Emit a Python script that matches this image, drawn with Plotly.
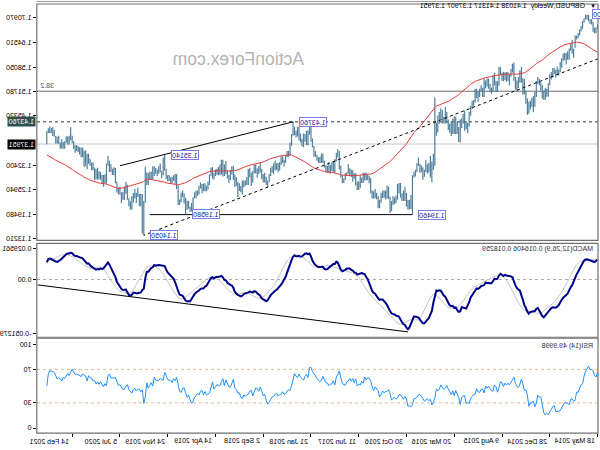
import pandas as pd
import plotly.graph_objects as go

# ---------------- data ----------------
FIRST_WEEK = "2014-05-18"   # first weekly bar on the chart

# weekly closes before the first visible bar (used only to warm up the indicators)
warmup_close = [1.5100, 1.5190, 1.5680, 1.5695, 1.5485, 1.5210, 1.4875, 1.5100, 1.5230, 1.5370,
                1.5375, 1.5505, 1.5650, 1.5580, 1.5495, 1.5650, 1.5865, 1.6020, 1.6120, 1.6190,
                1.5975, 1.6170, 1.6180, 1.5920, 1.5995, 1.6110, 1.6225, 1.6355, 1.6385, 1.6305,
                1.6370, 1.6475, 1.6475, 1.6430, 1.6420, 1.6490, 1.6440, 1.6315, 1.6665, 1.6660,
                1.6720, 1.6735, 1.6630, 1.6500, 1.6610, 1.6625, 1.6745, 1.6790, 1.6805, 1.6885,
                1.6865, 1.6820]

high = [
    # 2014
    1.6925, 1.6850, 1.6845, 1.6995, 1.7065, 1.7065, 1.7180, 1.7175, 1.7190, 1.7090, 1.7015, 1.6885,
    1.6800, 1.6700, 1.6635, 1.6640, 1.6290, 1.6525, 1.6415, 1.6300, 1.6225, 1.6180, 1.6185, 1.6165,
    1.6045, 1.5945, 1.5745, 1.5825, 1.5740, 1.5785, 1.5785, 1.5680, 1.5620,
    # 2015
    1.5390, 1.5245, 1.5270, 1.5200, 1.5350, 1.5420, 1.5500, 1.5550, 1.5445, 1.5165, 1.5050, 1.5005,
    1.4930, 1.4900, 1.4990, 1.5200, 1.5500, 1.5520, 1.5815, 1.5730, 1.5550, 1.5460, 1.5550, 1.5930,
    1.5900, 1.5760, 1.5615, 1.5675, 1.5680, 1.5675, 1.5690, 1.5665, 1.5805, 1.5820, 1.5440, 1.5450,
    1.5660, 1.5600, 1.5275, 1.5360, 1.5510, 1.5510, 1.5460, 1.5510, 1.5270, 1.5335, 1.5240, 1.5160,
    1.5240, 1.5245, 1.4945, 1.4930,
    # 2016
    1.4800, 1.4640, 1.4350, 1.4400, 1.4670, 1.4590, 1.4470, 1.4440, 1.4240, 1.4375, 1.4515, 1.4515,
    1.4460, 1.4385, 1.4325, 1.4440, 1.4640, 1.4770, 1.4510, 1.4685, 1.4730, 1.4635, 1.4545, 1.4355,
    1.5018, 1.3540, 1.3340, 1.3480, 1.3305, 1.3265, 1.3370, 1.3120, 1.3185, 1.3240, 1.3280, 1.3445,
    1.3290, 1.3120, 1.3060, 1.2975, 1.2460, 1.2335, 1.2330, 1.2510, 1.2675, 1.2575, 1.2500, 1.2775,
    1.2775, 1.2750, 1.2445, 1.2395,
    # 2017
    1.2435, 1.2300, 1.2415, 1.2675, 1.2710, 1.2580, 1.2575, 1.2570, 1.2520, 1.2335, 1.2425, 1.2520,
    1.2615, 1.2555, 1.2575, 1.2905, 1.2965, 1.2990, 1.3050, 1.3045, 1.3045, 1.2920, 1.2975, 1.2815,
    1.2815, 1.3030, 1.3030, 1.3110, 1.3125, 1.3160, 1.3265, 1.3055, 1.3030, 1.2890, 1.2980, 1.3225,
    1.3615, 1.3655, 1.3565, 1.3405, 1.3340, 1.3320, 1.3255, 1.3320, 1.3220, 1.3240, 1.3360, 1.3550,
    1.3550, 1.3460, 1.3450, 1.3515,
    # 2018
    1.3615, 1.3745, 1.3945, 1.4345, 1.4285, 1.4150, 1.4145, 1.4055, 1.4070, 1.3930, 1.4070, 1.4245,
    1.4245, 1.4145, 1.4250, 1.4376, 1.4060, 1.3835, 1.3615, 1.3615, 1.3500, 1.3385, 1.3475, 1.3475,
    1.3315, 1.3300, 1.3290, 1.3365, 1.3290, 1.3215, 1.3175, 1.3010, 1.2840, 1.2940, 1.3045, 1.3010,
    1.3145, 1.3300, 1.3215, 1.3155, 1.3260, 1.3260, 1.3090, 1.3045, 1.3175, 1.3140, 1.2930, 1.2840,
    1.2840, 1.2840, 1.2700, 1.2765,
    # 2019
    1.2800, 1.2930, 1.2995, 1.3215, 1.3215, 1.3110, 1.2985, 1.3110, 1.3350, 1.3260, 1.3380, 1.3380,
    1.3260, 1.3195, 1.3145, 1.3125, 1.3045, 1.3195, 1.3175, 1.3000, 1.2815, 1.2705, 1.2765, 1.2760,
    1.2750, 1.2785, 1.2705, 1.2580, 1.2580, 1.2525, 1.2400, 1.2250, 1.2150, 1.2310, 1.2310, 1.2385,
    1.2505, 1.2580, 1.2525, 1.2345, 1.2710, 1.3010, 1.3010, 1.2975, 1.2935, 1.2920, 1.2985, 1.2980,
    1.3150, 1.3514, 1.3445, 1.3080,
    # 2020
    1.3285, 1.3215, 1.3120, 1.3175, 1.3210, 1.3210, 1.3070, 1.3070, 1.3030, 1.3050, 1.3200, 1.2300,
    1.2485, 1.2485, 1.2485, 1.2650, 1.2520, 1.2615, 1.2515, 1.2425, 1.2295, 1.2375, 1.2730, 1.2810,
    1.2685, 1.2545, 1.2535, 1.2670, 1.2650, 1.2805, 1.3170, 1.3185, 1.3145, 1.3265, 1.3355, 1.3485,
    1.3285, 1.3005, 1.2985, 1.2985, 1.3060, 1.3085, 1.3175, 1.3140, 1.3180, 1.3310, 1.3310, 1.3400,
    1.3540, 1.3540, 1.3625, 1.3625,
    # 2021
    1.3705, 1.3705, 1.3710, 1.3745, 1.3760, 1.3760, 1.3865, 1.4015, 1.4240, 1.4015, 1.3990, 1.4000,
    1.3870, 1.3850, 1.3920, 1.3835, 1.4010, 1.3985, 1.4005, 1.4165, 1.4235, 1.4220, 1.4250, 1.4205,
    1.41317,
]

low = [
    # 2014
    1.6795, 1.6695, 1.6695, 1.6735, 1.6925, 1.6945, 1.7010, 1.7060, 1.7055, 1.6975, 1.6815, 1.6740,
    1.6640, 1.6565, 1.6535, 1.6315, 1.6052, 1.6160, 1.6240, 1.6000, 1.6000, 1.5875, 1.5995, 1.5960,
    1.5790, 1.5675, 1.5590, 1.5625, 1.5540, 1.5620, 1.5540, 1.5485, 1.5335,
    # 2015
    1.5035, 1.5035, 1.4950, 1.4950, 1.4990, 1.5200, 1.5335, 1.5370, 1.5030, 1.4770, 1.4635, 1.4765,
    1.4700, 1.4585, 1.4565, 1.4850, 1.5090, 1.5085, 1.5400, 1.5400, 1.5260, 1.5170, 1.5220, 1.5450,
    1.5670, 1.5560, 1.5330, 1.5450, 1.5420, 1.5470, 1.5440, 1.5455, 1.5605, 1.5330, 1.5165, 1.5160,
    1.5330, 1.5160, 1.5110, 1.5160, 1.5240, 1.5300, 1.5250, 1.5025, 1.5025, 1.5170, 1.5030, 1.4895,
    1.5000, 1.4880, 1.4800, 1.4710,
    # 2016
    1.4535, 1.4255, 1.4080, 1.4185, 1.4140, 1.4330, 1.4215, 1.3835, 1.3850, 1.4055, 1.4055, 1.4055,
    1.4060, 1.4005, 1.4090, 1.4160, 1.4340, 1.4330, 1.4330, 1.4330, 1.4450, 1.4330, 1.4095, 1.4010,
    1.3225, 1.3120, 1.2795, 1.2920, 1.3055, 1.3015, 1.3060, 1.2935, 1.2860, 1.3055, 1.3045, 1.3220,
    1.3055, 1.2945, 1.2915, 1.1946, 1.2090, 1.2085, 1.2080, 1.2150, 1.2300, 1.2305, 1.2300, 1.2385,
    1.2500, 1.2335, 1.2250, 1.2225,
    # 2017
    1.2200, 1.2035, 1.1986, 1.2355, 1.2375, 1.2345, 1.2385, 1.2380, 1.2255, 1.2110, 1.2110, 1.2350,
    1.2375, 1.2370, 1.2365, 1.2505, 1.2770, 1.2845, 1.2845, 1.2840, 1.2775, 1.2775, 1.2635, 1.2590,
    1.2590, 1.2710, 1.2880, 1.2810, 1.2930, 1.2950, 1.3025, 1.2955, 1.2850, 1.2775, 1.2770, 1.2920,
    1.3125, 1.3450, 1.3340, 1.3030, 1.3060, 1.3090, 1.3025, 1.3035, 1.3040, 1.3060, 1.3180, 1.3300,
    1.3300, 1.3300, 1.3305, 1.3360,
    # 2018
    1.3460, 1.3460, 1.3705, 1.3855, 1.4040, 1.3765, 1.3765, 1.3855, 1.3710, 1.3735, 1.3835, 1.3890,
    1.3990, 1.3965, 1.4025, 1.4010, 1.3750, 1.3485, 1.3460, 1.3450, 1.3305, 1.3205, 1.3300, 1.3245,
    1.3100, 1.3050, 1.3115, 1.3105, 1.3010, 1.3045, 1.2960, 1.2810, 1.2660, 1.2725, 1.2785, 1.2785,
    1.2880, 1.3050, 1.3010, 1.2920, 1.3025, 1.3030, 1.2790, 1.2695, 1.2925, 1.2725, 1.2720, 1.2700,
    1.2660, 1.2475, 1.2530, 1.2565,
    # 2019
    1.2405, 1.2705, 1.2670, 1.2855, 1.3000, 1.2855, 1.2775, 1.2890, 1.3005, 1.2960, 1.2945, 1.3005,
    1.2975, 1.2980, 1.2990, 1.2955, 1.2865, 1.2890, 1.2965, 1.2720, 1.2605, 1.2560, 1.2560, 1.2560,
    1.2505, 1.2630, 1.2475, 1.2440, 1.2380, 1.2365, 1.2080, 1.2025, 1.2015, 1.2100, 1.2070, 1.1959,
    1.2235, 1.2410, 1.2270, 1.2205, 1.2195, 1.2620, 1.2755, 1.2825, 1.2765, 1.2770, 1.2825, 1.2820,
    1.2880, 1.3100, 1.2980, 1.2905,
    # 2020
    1.3055, 1.3015, 1.2955, 1.3010, 1.2955, 1.2870, 1.2870, 1.2850, 1.2725, 1.2725, 1.2260, 1.1405,
    1.1450, 1.2165, 1.2165, 1.2405, 1.2245, 1.2370, 1.2265, 1.2075, 1.2075, 1.2165, 1.2335, 1.2495,
    1.2330, 1.2335, 1.2250, 1.2465, 1.2480, 1.2525, 1.2765, 1.2980, 1.2985, 1.3060, 1.3060, 1.3225,
    1.2760, 1.2765, 1.2675, 1.2745, 1.2860, 1.2865, 1.2860, 1.2880, 1.2855, 1.3105, 1.3105, 1.3225,
    1.3280, 1.3135, 1.3225, 1.3190,
    # 2021
    1.3450, 1.3450, 1.3520, 1.3580, 1.3615, 1.3565, 1.3665, 1.3815, 1.3890, 1.3780, 1.3780, 1.3830,
    1.3670, 1.3670, 1.3670, 1.3670, 1.3800, 1.3810, 1.3800, 1.3990, 1.4005, 1.4080, 1.4085, 1.4075,
    1.37907,
]

close = [
    # 2014
    1.6835, 1.6745, 1.6795, 1.6975, 1.7010, 1.7015, 1.7155, 1.7105, 1.7075, 1.6985, 1.6815, 1.6795,
    1.6695, 1.6590, 1.6595, 1.6325, 1.6260, 1.6315, 1.6295, 1.6055, 1.6085, 1.6095, 1.6095, 1.5995,
    1.5865, 1.5680, 1.5645, 1.5640, 1.5620, 1.5715, 1.5670, 1.5525, 1.5335,
    # 2015
    1.5145, 1.5165, 1.5015, 1.5055, 1.5240, 1.5395, 1.5390, 1.5435, 1.5055, 1.4815, 1.4965, 1.4890,
    1.4855, 1.4635, 1.4975, 1.5185, 1.5150, 1.5445, 1.5700, 1.5470, 1.5295, 1.5340, 1.5510, 1.5880,
    1.5745, 1.5580, 1.5510, 1.5600, 1.5515, 1.5610, 1.5460, 1.5640, 1.5700, 1.5410, 1.5175, 1.5435,
    1.5535, 1.5200, 1.5185, 1.5310, 1.5425, 1.5320, 1.5425, 1.5040, 1.5230, 1.5215, 1.5040, 1.5055,
    1.5195, 1.4885, 1.4865, 1.4740,
    # 2016
    1.4595, 1.4265, 1.4230, 1.4240, 1.4505, 1.4500, 1.4400, 1.3870, 1.4150, 1.4365, 1.4480, 1.4130,
    1.4375, 1.4105, 1.4230, 1.4405, 1.4615, 1.4440, 1.4375, 1.4495, 1.4620, 1.4375, 1.4255, 1.4350,
    1.3680, 1.3290, 1.2945, 1.3245, 1.3095, 1.3215, 1.3110, 1.2935, 1.3080, 1.3190, 1.3270, 1.3260,
    1.3055, 1.2995, 1.2970, 1.2425, 1.2190, 1.2230, 1.2195, 1.2485, 1.2595, 1.2385, 1.2475, 1.2575,
    1.2575, 1.2355, 1.2280, 1.2340,
    # 2017
    1.2275, 1.2180, 1.2405, 1.2570, 1.2475, 1.2480, 1.2410, 1.2475, 1.2290, 1.2190, 1.2400, 1.2475,
    1.2550, 1.2395, 1.2535, 1.2815, 1.2945, 1.2955, 1.2885, 1.3030, 1.2805, 1.2885, 1.2745, 1.2780,
    1.2715, 1.3025, 1.2885, 1.3100, 1.2995, 1.3135, 1.3035, 1.3010, 1.2875, 1.2890, 1.2965, 1.3200,
    1.3615, 1.3485, 1.3395, 1.3065, 1.3285, 1.3150, 1.3135, 1.3065, 1.3190, 1.3205, 1.3330, 1.3525,
    1.3375, 1.3325, 1.3385, 1.3505,
    # 2018
    1.3570, 1.3720, 1.3860, 1.4150, 1.4140, 1.3815, 1.4015, 1.3935, 1.3795, 1.3880, 1.3950, 1.4140,
    1.4015, 1.4085, 1.4240, 1.4015, 1.3770, 1.3515, 1.3550, 1.3490, 1.3335, 1.3320, 1.3410, 1.3275,
    1.3265, 1.3190, 1.3285, 1.3235, 1.3125, 1.3110, 1.2995, 1.2825, 1.2740, 1.2835, 1.3000, 1.2925,
    1.3075, 1.3200, 1.3035, 1.3130, 1.3155, 1.3030, 1.2815, 1.3000, 1.2965, 1.2825, 1.2800, 1.2730,
    1.2775, 1.2590, 1.2635, 1.2755,
    # 2019
    1.2745, 1.2840, 1.2885, 1.3190, 1.3075, 1.2935, 1.2945, 1.3045, 1.3195, 1.3010, 1.3300, 1.3205,
    1.3035, 1.3065, 1.3085, 1.3000, 1.2920, 1.3185, 1.2995, 1.2720, 1.2665, 1.2625, 1.2740, 1.2585,
    1.2735, 1.2700, 1.2520, 1.2570, 1.2465, 1.2370, 1.2160, 1.2035, 1.2145, 1.2280, 1.2165, 1.2290,
    1.2500, 1.2475, 1.2290, 1.2330, 1.2665, 1.2965, 1.2835, 1.2935, 1.2780, 1.2895, 1.2895, 1.2935,
    1.3145, 1.3325, 1.3035, 1.3075,
    # 2020
    1.3140, 1.3065, 1.3070, 1.3075, 1.3205, 1.2895, 1.3045, 1.2960, 1.2820, 1.3050, 1.2280, 1.1635,
    1.2465, 1.2270, 1.2450, 1.2480, 1.2335, 1.2490, 1.2405, 1.2130, 1.2210, 1.2345, 1.2665, 1.2560,
    1.2345, 1.2335, 1.2480, 1.2620, 1.2565, 1.2790, 1.3085, 1.3055, 1.3090, 1.3085, 1.3345, 1.3275,
    1.2795, 1.2915, 1.2750, 1.2940, 1.3040, 1.2915, 1.3045, 1.2950, 1.3150, 1.3125, 1.3285, 1.3320,
    1.3435, 1.3235, 1.3520, 1.3555,
    # 2021
    1.3670, 1.3565, 1.3640, 1.3685, 1.3705, 1.3695, 1.3835, 1.4010, 1.3925, 1.3830, 1.3935, 1.3865,
    1.3790, 1.3830, 1.3725, 1.3825, 1.3865, 1.3825, 1.3995, 1.4110, 1.4150, 1.4150, 1.4180, 1.4110,
    1.37951,
]

MA_PERIOD = 55
MACD_FAST, MACD_SLOW, MACD_SIGNAL = 12, 26, 9
RSI_PERIOD = 14

date_ticks = ["2014-05-18", "2014-12-28", "2015-08-09", "2016-03-20", "2016-10-30", "2017-06-11",
              "2018-01-21", "2018-09-02", "2019-04-14", "2019-11-24", "2020-07-05", "2021-02-14"]
date_labels = ["18 May 2014", "28 Dec 2014", "9 Aug 2015", "20 Mar 2016", "30 Oct 2016", "11 Jun 2017",
               "21 Jan 2018", "2 Sep 2018", "14 Apr 2019", "24 Nov 2019", "5 Jul 2020", "14 Feb 2021"]

price_ticks = [1.70970, 1.64510, 1.58050, 1.51780, 1.45320, 1.32400, 1.25940, 1.19480, 1.13210]
price_tick_text = ["1.70970", "1.64510", "1.58050", "1.51780", "1.45320", "1.32400", "1.25940",
                   "1.19480", "1.13210"]
macd_ticks = [0.029561, 0.0, -0.051279]
macd_tick_text = ["0.029561", "0.00", "-0.051279"]
rsi_ticks = [100, 70, 30, 0]
rsi_tick_text = ["100", "70", "30", "0"]
rsi_levels = [70, 30]

fibo_level, fibo_text = 1.51780, "38.2"
resistance_level, resistance_text = 1.43760, "1.43760"
bid_price, bid_text = 1.37951, "1.37951"

mark_dates = ["2014-07-13", "2016-10-02", "2018-04-15", "2019-09-01", "2019-12-08", "2020-03-15"]
mark_prices = [1.71900, 1.19460, 1.43760, 1.19580, 1.35140, 1.14050]
mark_texts = ["1.71900", "1.19460", "1.43760", "1.19580", "1.35140", "1.14050"]

trend_high_dates, trend_high_prices = ["2018-04-15", "2020-07-05"], [1.4376, 1.3225]
trend_low_dates, trend_low_prices = ["2014-05-15", "2020-03-15"], [1.6030, 1.1405]
support_dates, support_prices = ["2016-10-02", "2020-02-16"], [1.1946, 1.1946]
macd_trend_dates, macd_trend_values = ["2016-10-23", "2021-07-25"], [-0.0500, -0.0052]

title_text = "GBPUSD,Weekly  1.41038 1.41317 1.37907 1.37951"
macd_text = "MACD(12,26,9) 0.016406 0.018259"
rsi_text = "RSI(14) 49.9998"
watermark_text = "ActionForex.com"

# ---------------- indicators ----------------
assert len(high) == len(low) == len(close)
n0 = len(warmup_close)
all_close = pd.Series(warmup_close + close, dtype=float)
ma = all_close.ewm(span=MA_PERIOD, adjust=False).mean()
macd_main = (all_close.ewm(span=MACD_FAST, adjust=False).mean()
             - all_close.ewm(span=MACD_SLOW, adjust=False).mean())
macd_sig = macd_main.rolling(MACD_SIGNAL).mean()
delta = all_close.diff()
gain = delta.clip(lower=0).ewm(alpha=1 / RSI_PERIOD, adjust=False).mean()
loss = (-delta.clip(upper=0)).ewm(alpha=1 / RSI_PERIOD, adjust=False).mean()
rsi = 100 - 100 / (1 + gain / loss)

dates = pd.date_range(FIRST_WEEK, periods=len(close), freq="7D")
ma, macd_main, macd_sig, rsi = [s.iloc[n0:].tolist() for s in (ma, macd_main, macd_sig, rsi)]

# ---------------- geometry (pixels of the 600x450 page) ----------------
W, H = 600, 450
PLOT_L, PLOT_R = 2, 566
MAIN_T, MAIN_B = 4, 241
MACD_T, MACD_B = 244, 338
RSI_T, RSI_B = 339, 434
PX_PER_WEEK = 1.5


def fx(px):
    return px / W


def fy(py):
    return 1 - py / H


x_start = pd.Timestamp(FIRST_WEEK) - pd.Timedelta(weeks=0.33)
x_end = x_start + pd.Timedelta(weeks=(PLOT_R - PLOT_L) / PX_PER_WEEK)
FONT = "Liberation Sans, Arial, sans-serif"

# ---------------- traces ----------------
seg_x, seg_y = [], []
for d, lo, hi in zip(dates, low, high):
    seg_x += [d, d, None]
    seg_y += [lo, hi, None]

fig = go.Figure()
fig.add_trace(go.Scatter(x=seg_x, y=seg_y, mode="lines", line=dict(color="#4F7F9C", width=1.2),
                         yaxis="y", hoverinfo="skip"))
fig.add_trace(go.Scatter(x=dates, y=ma, mode="lines", line=dict(color="#E23C3C", width=1), yaxis="y"))
fig.add_trace(go.Scatter(x=trend_high_dates, y=trend_high_prices, mode="lines",
                         line=dict(color="#000000", width=1), yaxis="y"))
fig.add_trace(go.Scatter(x=trend_low_dates, y=trend_low_prices, mode="lines",
                         line=dict(color="#000000", width=1, dash="3px,3px"), yaxis="y"))
fig.add_trace(go.Scatter(x=support_dates, y=support_prices, mode="lines",
                         line=dict(color="#000000", width=1), yaxis="y"))

fig.add_trace(go.Scatter(x=dates, y=macd_sig, mode="lines", line=dict(color="#C4C4C4", width=1), yaxis="y2"))
fig.add_trace(go.Scatter(x=dates, y=macd_main, mode="lines", line=dict(color="#00008B", width=2), yaxis="y2"))
fig.add_trace(go.Scatter(x=macd_trend_dates, y=macd_trend_values, mode="lines",
                         line=dict(color="#000000", width=1), yaxis="y2"))

fig.add_trace(go.Scatter(x=dates, y=rsi, mode="lines", line=dict(color="#1E90FF", width=1), yaxis="y3"))

# ---------------- shapes ----------------
shapes = []
for t, b in ((MAIN_T, MAIN_B), (MACD_T, MACD_B), (RSI_T, RSI_B)):
    shapes.append(dict(type="rect", xref="paper", yref="paper", x0=fx(PLOT_L), x1=fx(PLOT_R),
                       y0=fy(b), y1=fy(t), line=dict(color="#707070", width=1.2), layer="above"))
shapes.append(dict(type="line", xref="paper", yref="paper", x0=fx(PLOT_L), x1=fx(PLOT_R),
                   y0=fy(1.5), y1=fy(1.5), line=dict(color="#9A9A9A", width=1)))
shapes.append(dict(type="line", xref="paper", yref="y", x0=fx(PLOT_L), x1=fx(PLOT_R),
                   y0=fibo_level, y1=fibo_level, line=dict(color="#6A6A6A", width=1), layer="below"))
shapes.append(dict(type="line", xref="paper", yref="y", x0=fx(PLOT_L), x1=fx(PLOT_R),
                   y0=resistance_level, y1=resistance_level,
                   line=dict(color="#333333", width=1, dash="3px,3px"), layer="below"))
shapes.append(dict(type="line", xref="paper", yref="y", x0=fx(PLOT_L), x1=fx(PLOT_R),
                   y0=bid_price, y1=bid_price, line=dict(color="#C8C8C8", width=1), layer="below"))
shapes.append(dict(type="line", xref="paper", yref="y2", x0=fx(PLOT_L), x1=fx(PLOT_R),
                   y0=0, y1=0, line=dict(color="#A8A8A8", width=1, dash="3px,3px"), layer="below"))
for lv in rsi_levels:
    shapes.append(dict(type="line", xref="paper", yref="y3", x0=fx(PLOT_L), x1=fx(PLOT_R),
                       y0=lv, y1=lv, line=dict(color="#D9BC9C", width=1, dash="3px,3px"), layer="below"))

# ---------------- annotations ----------------
ann = []
small = dict(family=FONT, size=7, color="#000000")
ann.append(dict(text=watermark_text, xref="paper", yref="paper", x=fx(363), y=fy(59),
                xanchor="center", yanchor="middle", showarrow=False,
                font=dict(family=FONT, size=17.5, color="#B4B4B4")))
ann.append(dict(text="▼", xref="paper", yref="paper", x=fx(7.5), y=fy(6.5), xanchor="center",
                yanchor="middle", showarrow=False, font=dict(family=FONT, size=6, color="#000000")))
ann.append(dict(text=title_text, xref="paper", yref="paper", x=fx(13), y=fy(6.5), xanchor="left",
                yanchor="middle", showarrow=False, font=small))
ann.append(dict(text=macd_text, xref="paper", yref="paper", x=fx(5), y=fy(250), xanchor="left",
                yanchor="middle", showarrow=False, font=dict(family=FONT, size=7, color="#303030")))
ann.append(dict(text=rsi_text, xref="paper", yref="paper", x=fx(5), y=fy(347), xanchor="left",
                yanchor="middle", showarrow=False, font=dict(family=FONT, size=7, color="#303030")))
ann.append(dict(text=fibo_text, xref="paper", yref="y", x=fx(PLOT_R - 1), y=fibo_level, xanchor="right",
                yanchor="bottom", showarrow=False, font=dict(family=FONT, size=7, color="#505070")))
for d, p, t in zip(mark_dates, mark_prices, mark_texts):
    ann.append(dict(text=t, xref="x", yref="y", x=d, y=p, xanchor="right", yanchor="middle", xshift=-6,
                    showarrow=False, bgcolor="#FFFFFF", bordercolor="#7B7BE0", borderwidth=1, borderpad=0.5,
                    font=dict(family=FONT, size=7, color="#2020A0")))
ann.append(dict(text=resistance_text, xref="paper", yref="y", x=fx(PLOT_R + 1), y=resistance_level,
                xanchor="left", yanchor="middle", showarrow=False, bgcolor="#2F4F4F", borderpad=1,
                font=dict(family=FONT, size=7, color="#FFFFFF")))
ann.append(dict(text=bid_text, xref="paper", yref="y", x=fx(PLOT_R + 1), y=bid_price,
                xanchor="left", yanchor="middle", showarrow=False, bgcolor="#000000", borderpad=1,
                font=dict(family=FONT, size=7, color="#FFFFFF")))
for d, t in zip(date_ticks, date_labels):
    ann.append(dict(text=t, xref="x", yref="paper", x=d, y=fy(442), xanchor="left", yanchor="middle",
                    xshift=1, showarrow=False, font=small))

# ---------------- layout ----------------
yax = dict(side="right", anchor="x", showgrid=False, zeroline=False, showline=False, ticks="outside",
           ticklen=3, tickcolor="#000000", tickfont=small, fixedrange=True)
fig.update_layout(
    width=W, height=H, margin=dict(l=0, r=0, t=0, b=0),
    paper_bgcolor="white", plot_bgcolor="white", showlegend=False, hovermode=False,
    xaxis=dict(type="date", domain=[fx(PLOT_L), fx(PLOT_R)],
               range=[x_start.strftime("%Y-%m-%d %H:%M:%S"), x_end.strftime("%Y-%m-%d %H:%M:%S")],
               anchor="y3", showgrid=False, zeroline=False, showline=False, ticks="outside", ticklen=3,
               tickcolor="#000000", tickvals=date_ticks, showticklabels=False),
    yaxis=dict(yax, domain=[fy(MAIN_B), fy(MAIN_T)], range=[1.1269, 1.7463],
               tickvals=price_ticks, ticktext=price_tick_text),
    yaxis2=dict(yax, domain=[fy(MACD_B), fy(MACD_T)], range=[-0.055085, 0.034318],
                tickvals=macd_ticks, ticktext=macd_tick_text),
    yaxis3=dict(yax, domain=[fy(RSI_B), fy(RSI_T)], range=[-5.95, 107.1],
                tickvals=rsi_ticks, ticktext=rsi_tick_text),
    shapes=shapes, annotations=ann,
)

# the reference picture is a horizontally mirrored screenshot: mirror the rendered page the same way
mirror_js = ("var gd=document.getElementById('{plot_id}');"
             "document.documentElement.style.margin='0';document.body.style.margin='0';"
             "gd.style.transformOrigin='300px 225px';gd.style.transform='scaleX(-1)';")
fig.write_html("out.html", post_script=mirror_js)
